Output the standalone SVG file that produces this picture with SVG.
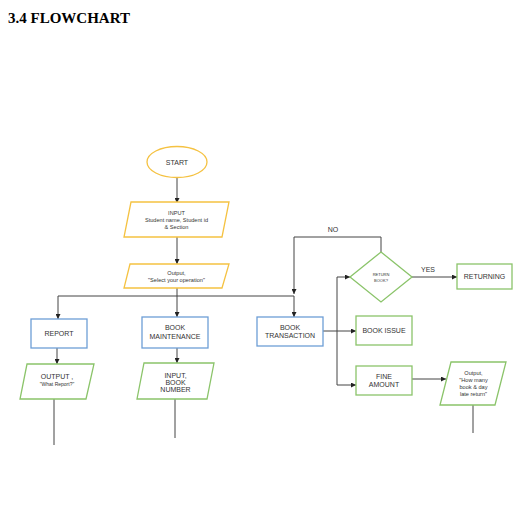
<svg xmlns="http://www.w3.org/2000/svg" width="528" height="511" viewBox="0 0 528 511">
<style>
.y{fill:#fff;stroke:#F5C242;stroke-width:1.3}
.b{fill:#fff;stroke:#6D9ED6;stroke-width:1.3}
.g{fill:#fff;stroke:#8BC46A;stroke-width:1.3}
.t{font-family:"Liberation Sans",Arial,sans-serif;fill:#333;text-anchor:middle;font-size:7px}
.s{font-size:5.6px}
.xs{font-size:4px}
.r{font-size:5px}
.c{fill:none;stroke:#444;stroke-width:1}
</style>
<defs>
<marker id="ar" viewBox="0 0 6 6" refX="6" refY="3" markerWidth="5" markerHeight="5" markerUnits="userSpaceOnUse" orient="auto">
<path d="M0,0 L6,3 L0,6 z" fill="#222"/>
</marker>
</defs>
<rect width="528" height="511" fill="#fff"/>
<text x="8" y="23" font-family="Liberation Serif,'Times New Roman',serif" font-weight="bold" font-size="15" fill="#000">3.4 FLOWCHART</text>

<g id="connectors">
<path class="c" d="M177,178 V203" marker-end="url(#ar)"/>
<path class="c" d="M177,237 V264" marker-end="url(#ar)"/>
<path class="c" d="M177,288 V296"/>
<path class="c" d="M58,296 H294"/>
<path class="c" d="M58,296 V319" marker-end="url(#ar)"/>
<path class="c" d="M177,296 V317" marker-end="url(#ar)"/>
<path class="c" d="M381,252 V237 H294 V294" marker-end="url(#ar)"/>
<path class="c" d="M294,296 V317" marker-end="url(#ar)"/>
<path class="c" d="M323,331 H356" marker-end="url(#ar)"/>
<path class="c" d="M337,331 V277 H350" marker-end="url(#ar)"/>
<path class="c" d="M337,331 V385 H356" marker-end="url(#ar)"/>
<path class="c" d="M412,277 H457" marker-end="url(#ar)"/>
<path class="c" d="M412,379 H446" marker-end="url(#ar)"/>
<path class="c" d="M473,405 V433"/>
<path class="c" d="M57,348 V364" marker-end="url(#ar)"/>
<path class="c" d="M54,399 V445"/>
<path class="c" d="M177,348 V363" marker-end="url(#ar)"/>
<path class="c" d="M175,399 V438"/>
<text class="t" x="333" y="232">NO</text>
<text class="t" x="428" y="272">YES</text>
</g>

<g id="start">
<ellipse class="y" cx="177" cy="162" rx="30" ry="15.5"/>
<text class="t" x="177" y="164.5">START</text>
</g>

<g id="input">
<polygon class="y" points="131,202 229,202 222,237 124,237"/>
<text class="t s" x="176.5" y="215">INPUT</text>
<text class="t s" x="176.5" y="222">Student name, Student id</text>
<text class="t s" x="176.5" y="229">&amp; Section</text>
</g>

<g id="output-op">
<polygon class="y" points="130,264 229,264 222,288 124,288"/>
<text class="t s" x="176.5" y="275">Output,</text>
<text class="t s" x="176.5" y="282">"Select your operation"</text>
</g>

<g id="report">
<rect class="b" x="31" y="319" width="56" height="29"/>
<text class="t" x="59" y="335.5">REPORT</text>
</g>

<g id="output-report">
<polygon class="g" points="27,364 94,364 86,399 20,399"/>
<text class="t" x="57" y="379">OUTPUT ,</text>
<text class="t r" x="57" y="386">"What Report?"</text>
</g>

<g id="book-maintenance">
<rect class="b" x="142" y="317" width="66" height="31"/>
<text class="t" x="175" y="330">BOOK</text>
<text class="t" x="175" y="339">MAINTENANCE</text>
</g>

<g id="input-book">
<polygon class="g" points="144,363 214,363 207,399 137,399"/>
<text class="t" x="175.5" y="378">INPUT,</text>
<text class="t" x="175.5" y="385">BOOK</text>
<text class="t" x="175.5" y="392">NUMBER</text>
</g>

<g id="book-transaction">
<rect class="b" x="257" y="317" width="66" height="29"/>
<text class="t" x="290" y="329.5">BOOK</text>
<text class="t" x="290" y="338">TRANSACTION</text>
</g>

<g id="return-book">
<polygon class="g" points="381,252 412,277 381,302 350,277"/>
<text class="t xs" x="381" y="276">RETURN</text>
<text class="t xs" x="381" y="282">BOOK?</text>
</g>

<g id="returning">
<rect class="g" x="457" y="264" width="55" height="25"/>
<text class="t" x="484.5" y="279">RETURNING</text>
</g>

<g id="book-issue">
<rect class="g" x="356" y="316" width="56" height="29"/>
<text class="t" x="384" y="333">BOOK ISSUE</text>
</g>

<g id="fine-amount">
<rect class="g" x="356" y="366" width="56" height="29"/>
<text class="t" x="384" y="378.5">FINE</text>
<text class="t" x="384" y="387">AMOUNT</text>
</g>

<g id="output-fine">
<polygon class="g" points="451,362 506,362 495,405 440,405"/>
<text class="t s" x="473.5" y="375">Output,</text>
<text class="t s" x="473.5" y="382">"How many</text>
<text class="t s" x="473.5" y="389">book &amp; day</text>
<text class="t s" x="473.5" y="396">late return"</text>
</g>
</svg>
